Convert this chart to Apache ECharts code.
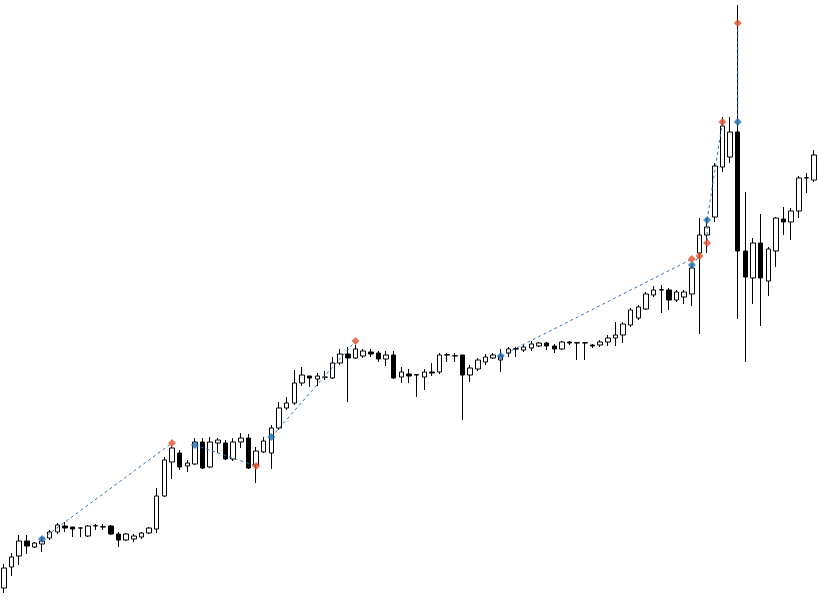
<!DOCTYPE html>
<html>
<head>
<meta charset="utf-8">
<script src="https://cdn.jsdelivr.net/npm/echarts@6/dist/echarts.min.js"></script>
<style>html,body{margin:0;padding:0;background:#fff}#c{width:818px;height:600px}</style>
</head>
<body>
<div id="c"></div>
<script>
// OHLC values (arbitrary price units)
var openP = [12,33,44,59,53,56,62,68,74,73,
  72,64,74,73,74,66,60,61,63,67,
  71,104,138,147,134,136,158,133,157,157,
  141,158,162,135,148,147,172,192,197,217,
  224,221,222.7,222,237,246,242,244,248,247,
  241,245,223,226,225.3,223,228,228,245,244,
  245,225,231,238,242,240,247,251,250,252,
  254,257,254,251,258,257,257,255,255,258,
  262,265,275,282,291,305,310,310,300,303,
  306,347,365,383,433,443,468,349,322,357,
  319,349,381,378,389,422,420];
var closeP = [32,43,59,54,57,59,68,75,72,71,
  72,74,74.3,73.3,66,60,66,64,67,72,
  104,140,152,133,137,158,132,158,160,141,
  158,162,132,149,159,172,192,197,217,225,
  222,224,223,237,246,242,251,249,246,241,
  245,222,228,224,225,228,227,245,245.3,244.3,
  225,232,240,243,245,244,251,251.3,253,256,
  257,254,251,258,257,257.3,257.3,254,258,262,
  265,276,290,293,306,310,310.3,300,308,308,
  332,365,373,434,474,468,349,323,357,322,
  351,382,378,389,422,422.3,445];
var lowP = [7,24,35,46,52,48,60,66,68,63,
  63,63,70,70,65,53,59,58,61,66,
  67,103,121,130,128,135,131,132,147,140,
  139,152,131,117,147,131,170,190,195,214,
  213,214,220,221,235,198,241,242,243,238,
  234,221,217,217,203,210,224,226,238,238,
  180,218,229,235,241,228,243,243,248,249,
  253,250,247,250,255,240,240,252,253,254,
  254,257,273,280,290,303,287,290,298,296,
  294,266,347,378,428,437,281,238,296,274,
  304,333,365,360,382,407,418];
var highP = [36,47,65,65,58,63,70,77,78,73,
  72.5,75,76,76,75,68,67,66,68,73,
  112,143,154,150,140,162,162,163,162,160,
  162,167,166,153,163,175,198,203,230,233,
  224,227,229,243,251,253,255,251,251,249,
  249,249,233,231,225.5,231,237,247,247,247,
  245,235,242,246,247,251,253,253,255,259,
  258,258,256,259,259,258,258,256,260,265,
  278,278,292,295,308,314,315,312,310,310,
  335,382,382,437,483,483,595,408,362,386,
  353,383,393,392,424,427,450];

// Buy (blue) and sell (red) signals: bar index and price
var buyBars = [5,25,35,65,90,92,96];
var buyPrices = [61,155,163,244,335,380,478];
var sellBars = [22,33,46,90,91,92,94,96];
var sellPrices = [157,134,259,341,344,357,478,577];

// Trade connector segments
var segFromBar = [5,25,35,65,90,92,92,96];
var segFromPrice = [61,155,163,244,335,380,380,478];
var segToBar = [22,33,46,90,91,92,94,96];
var segToPrice = [157,134,259,341,344,357,478,577];

var categories = openP.map(function(_, i){ return String(i + 1); });
var candleData = openP.map(function(o, i){ return [o, closeP[i], lowP[i], highP[i]]; });

var series = [{
  type: 'candlestick',
  data: candleData,
  barWidth: 5,
  itemStyle: {color: '#ffffff', color0: '#000000', borderColor: '#000000', borderColor0: '#000000', borderWidth: 1},
  z: 2
}];
segFromBar.forEach(function(b, k){
  series.push({
    type: 'line',
    data: [[b, segFromPrice[k]], [segToBar[k], segToPrice[k]]],
    symbol: 'none',
    lineStyle: {color: '#2f74b5', width: 1, type: [3, 3]},
    z: 3,
    silent: true
  });
});
series.push({
  type: 'scatter',
  data: buyBars.map(function(b, k){ return [b, buyPrices[k]]; }),
  symbol: 'diamond',
  symbolSize: 8,
  itemStyle: {color: '#1f6fb5'},
  z: 4
});
series.push({
  type: 'scatter',
  data: sellBars.map(function(b, k){ return [b, sellPrices[k]]; }),
  symbol: 'diamond',
  symbolSize: 8,
  itemStyle: {color: '#e2502a'},
  z: 4
});

var chart = echarts.init(document.getElementById('c'));
chart.setOption({
  animation: false,
  backgroundColor: '#ffffff',
  grid: {left: 0, right: 0, top: 0, bottom: 0},
  xAxis: {type: 'category', data: categories, boundaryGap: true, show: false},
  yAxis: {type: 'value', min: 0, max: 600, show: false, splitLine: {show: false}},
  series: series
});
</script>
</body>
</html>
